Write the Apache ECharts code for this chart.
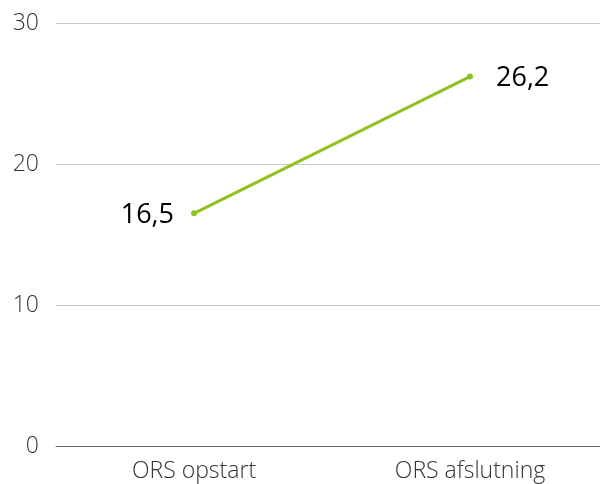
<!DOCTYPE html>
<html>
<head>
<meta charset="utf-8">
<script src="https://cdn.jsdelivr.net/npm/echarts@6/dist/echarts.min.js"></script>
<style>
  html, body { margin: 0; padding: 0; background: #fff; overflow: hidden; }
  #chart-container { width: 608px; height: 484px; }
</style>
</head>
<body>
<div id="chart-container"></div>
<script>
var categories = ['ORS opstart', 'ORS afslutning'];
var values = [16.5, 26.2];
var yTicks = [0, 10, 20, 30];

var dom = document.getElementById('chart-container');
var myChart = echarts.init(dom, null, { renderer: 'canvas' });

var option = {
  animation: false,
  textStyle: { fontFamily: 'Open Sans' },
  grid: { left: 56, right: 0, top: 23, bottom: 38, containLabel: false },
  xAxis: {
    type: 'category',
    data: categories,
    boundaryGap: true,
    axisLine: { lineStyle: { color: '#666', width: 1 } },
    axisTick: { show: false },
    axisLabel: { color: '#333', fontSize: 23, fontWeight: 300, margin: 14, fontFamily: 'Open Sans' }
  },
  yAxis: {
    type: 'value',
    min: yTicks[0],
    max: yTicks[yTicks.length - 1],
    interval: 10,
    axisLine: { show: false },
    axisTick: { show: false },
    axisLabel: { color: '#333', fontSize: 23, fontWeight: 300, margin: 17, fontFamily: 'Open Sans' },
    splitLine: { lineStyle: { color: '#c8c8c8', width: 1 } }
  },
  series: [
    {
      type: 'line',
      symbol: 'circle',
      symbolSize: 6,
      itemStyle: { color: '#8dc21f' },
      lineStyle: { color: '#8dc21f', width: 3 },
      label: {
        show: true,
        fontSize: 27,
        color: '#000',
        fontFamily: 'Open Sans',
        formatter: function (p) { return String(p.value).replace('.', ','); },
        distance: 20,
        offset: [3, 2]
      },
      data: values.map(function (v, i) {
        return { value: v, label: { position: i === 0 ? 'left' : 'right' } };
      })
    }
  ]
};

myChart.setOption(option);
window.addEventListener('resize', myChart.resize);
</script>
</body>
</html>
